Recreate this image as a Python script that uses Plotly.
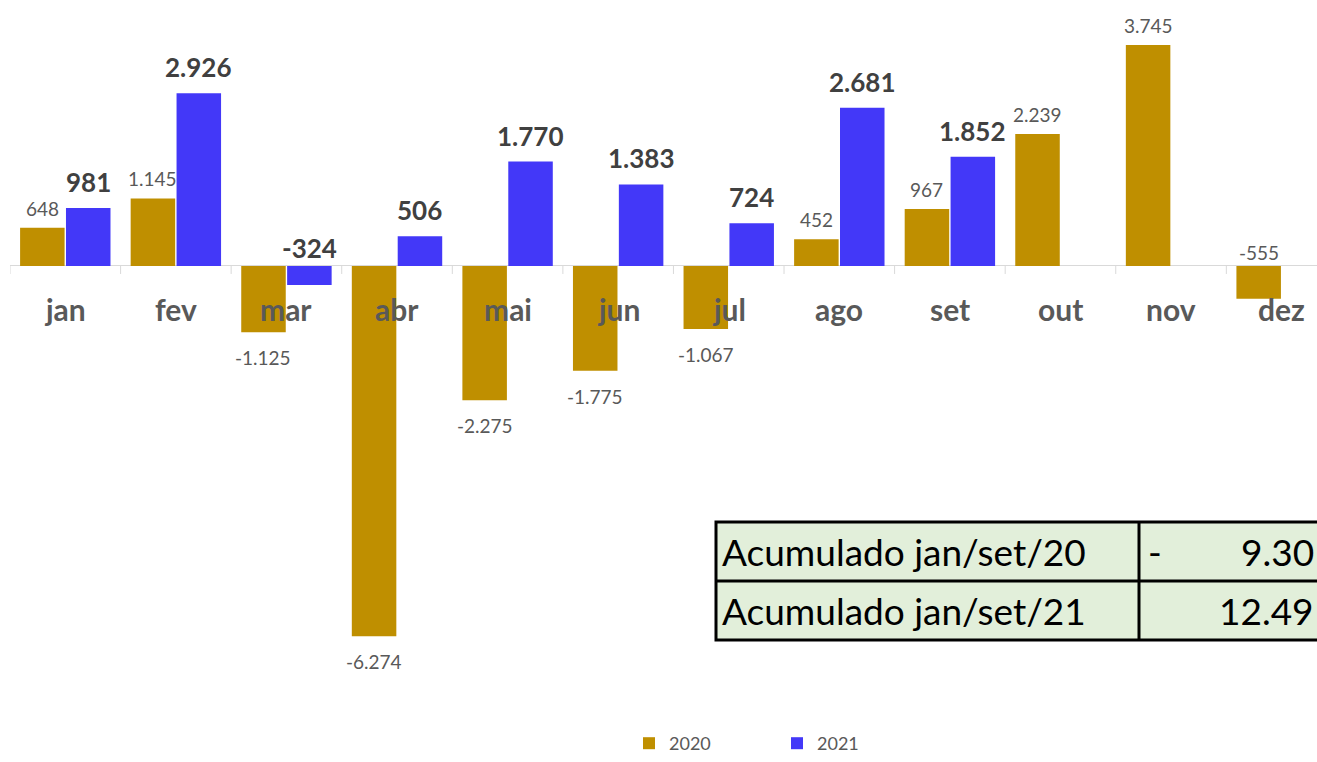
import plotly.graph_objects as go

months = ["jan", "fev", "mar", "abr", "mai", "jun", "jul", "ago", "set", "out", "nov", "dez"]
vals_2020 = [648, 1145, -1125, -6274, -2275, -1775, -1067, 452, 967, 2239, 3745, -555]
vals_2021 = [981, 2926, -324, 506, 1770, 1383, 724, 2681, 1852, None, None, None]
series_names = ["2020", "2021"]
table_labels = ["Acumulado jan/set/20", "Acumulado jan/set/21"]
table_signs = ["-", ""]
table_values = ["9.30", "12.49"]

GOLD = "#BF8F00"
BLUE = "#4338F8"
FONT = "Lato"

W, H = 1317, 762
ML, MR, MT, MB = 10, 0, 0, 62
PW, PH = W - ML - MR, H - MT - MB

BARGAP = 0.17
x_idx = list(range(len(months)))


def fmt(v):
    s = f"{abs(v):,}".replace(",", ".")
    return ("-" if v < 0 else "") + s


fig = go.Figure()
fig.add_trace(go.Bar(x=x_idx, y=vals_2020, name=series_names[0], marker=dict(color=GOLD, line=dict(width=0))))
fig.add_trace(go.Bar(x=x_idx, y=vals_2021, name=series_names[1], marker=dict(color=BLUE, line=dict(width=0))))

annotations = []
off = (1 - BARGAP) / 4
for series, sign, font, up in [
    (vals_2020, -1, dict(family=FONT, size=19, color="#595959"), 6),
    (vals_2021, 1, dict(family=FONT, size=26, color="#404040", weight="bold"), 8),
]:
    for i, v in enumerate(series):
        if v is None:
            continue
        x = i + sign * off
        if v >= 0:
            annotations.append(dict(x=x, y=v, text=fmt(v), showarrow=False, yanchor="bottom",
                                    yshift=up, font=font, xref="x", yref="y"))
        elif abs(v) < 600:
            annotations.append(dict(x=x, y=0, text=fmt(v), showarrow=False, yanchor="bottom",
                                    yshift=0, font=font, xref="x", yref="y"))
        else:
            annotations.append(dict(x=x, y=v, text=fmt(v), showarrow=False, yanchor="top",
                                    yshift=-12, font=font, xref="x", yref="y"))

for i, m in enumerate(months):
    annotations.append(dict(x=i, y=0, text=m, showarrow=False, yanchor="middle", yshift=-43,
                            font=dict(family=FONT, size=30, color="#595959", weight="bold"),
                            xref="x", yref="y"))

shapes = []
for i in range(len(months) + 1):
    shapes.append(dict(type="line", xref="x", yref="y", x0=i - 0.5, x1=i - 0.5,
                       ysizemode="pixel", yanchor=0, y0=0, y1=-8,
                       line=dict(color="#D9D9D9", width=1)))


def px(x):
    return (x - ML) / PW


def py(y):
    return (MT + PH - y) / PH


# table
tx0, tx1, tdiv = 716, 1325, 1139
ty0, tmid, ty1 = 522, 581, 640
shapes.append(dict(type="rect", xref="paper", yref="paper", x0=px(tx0), x1=px(tx1), y0=py(ty1), y1=py(ty0),
                   fillcolor="#E2EFDA", line=dict(color="black", width=3), layer="above"))
shapes.append(dict(type="line", xref="paper", yref="paper", x0=px(tx0), x1=px(tx1), y0=py(tmid), y1=py(tmid),
                   line=dict(color="black", width=3)))
shapes.append(dict(type="line", xref="paper", yref="paper", x0=px(tdiv), x1=px(tdiv), y0=py(ty1), y1=py(ty0),
                   line=dict(color="black", width=3)))
row_centers = [(ty0 + tmid) / 2, (tmid + ty1) / 2]
tfont = dict(family=FONT, size=37, color="black")
for r, yc in enumerate(row_centers):
    annotations.append(dict(x=px(720), y=py(yc), xref="paper", yref="paper", text=table_labels[r],
                            xanchor="left", yanchor="middle", showarrow=False, font=tfont))
    if table_signs[r]:
        annotations.append(dict(x=px(1146), y=py(yc), xref="paper", yref="paper", text=table_signs[r],
                                xanchor="left", yanchor="middle", showarrow=False, font=tfont))
    annotations.append(dict(x=px(1316), y=py(yc), xref="paper", yref="paper", text=table_values[r],
                            xanchor="right", yanchor="middle", showarrow=False, font=tfont))

fig.update_layout(
    width=W, height=H,
    margin=dict(l=ML, r=MR, t=MT, b=MB, autoexpand=False),
    paper_bgcolor="white", plot_bgcolor="white",
    barmode="group", bargap=BARGAP, bargroupgap=0.03,
    xaxis=dict(range=[-0.5, 11.32], showticklabels=False, showgrid=False, zeroline=False,
               showline=False, fixedrange=True),
    yaxis=dict(range=[-7356, 4508], visible=True, showticklabels=False, showgrid=False,
               zeroline=True, zerolinecolor="#D9D9D9", zerolinewidth=1, showline=False,
               fixedrange=True),
    showlegend=True,
    legend=dict(orientation="h", x=px(777), xanchor="center", y=py(762), yanchor="bottom",
                font=dict(family=FONT, size=18, color="#595959"), itemwidth=30,
                entrywidth=103, bgcolor="rgba(0,0,0,0)", borderwidth=0),
    annotations=annotations,
    shapes=shapes,
    font=dict(family=FONT),
)

fig.write_html("out.html", config={"displayModeBar": False})

# remove default page margins so the figure fills the window exactly
with open("out.html", "r", encoding="utf-8") as f:
    html = f.read()
html = html.replace("<head>", "<head><style>html,body{margin:0;padding:0;overflow:hidden;}</style>", 1)
with open("out.html", "w", encoding="utf-8") as f:
    f.write(html)
